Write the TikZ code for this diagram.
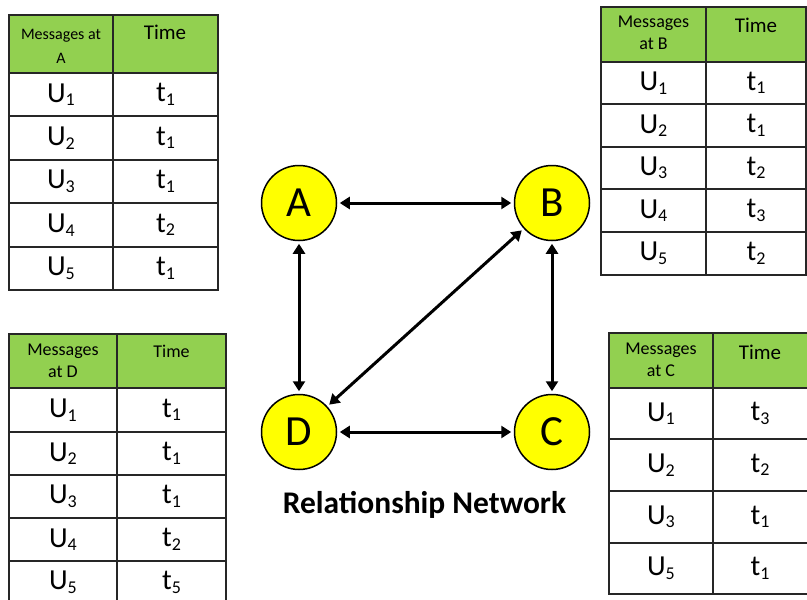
\documentclass[tikz,border=0pt]{standalone}
\usepackage{fontspec}
\setmainfont{Carlito}
\usetikzlibrary{arrows.meta}
\definecolor{hdrgreen}{HTML}{92D050}
\definecolor{nodeyellow}{HTML}{FFFF00}
\newcommand{\msub}[2]{#1\raisebox{-3.5pt}{\fontsize{18}{18}\selectfont #2}}
\tikzset{
  tbl/.style={draw=black!85, line width=1.2pt},
  hdrtext/.style={anchor=north, inner sep=0pt, align=center},
  celltext/.style={inner sep=0pt, font=\fontsize{29}{30}\selectfont},
  netnode/.style={circle, draw=black, line width=1.5pt, fill=nodeyellow, minimum size=75pt, inner sep=0pt, font=\fontsize{43}{43}\selectfont},
  link/.style={line width=3pt, {Triangle[length=10pt,width=12pt]}-{Triangle[length=10pt,width=12pt]}, shorten <=2.5pt, shorten >=2.5pt}
}
\begin{document}
\begin{tikzpicture}[x=1pt,y=-1pt]
\useasboundingbox[fill=white] (0,0) rectangle (807,600);

% ---------- Table A ----------
\fill[hdrgreen] (9,15) rectangle (218,73);
\draw[tbl] (9,15) rectangle (113,73);
\draw[tbl] (113,15) rectangle (218,73);
\node[hdrtext, font=\fontsize{16}{24}\selectfont] (Ah1) at (61,29) {Messages at\\A};
\node[hdrtext, font=\fontsize{21}{24}\selectfont] (Ah2) at (165,25) {Time};
\foreach \ya/\yb/\u/\t [count=\i] in {73/116/1/1,116/160/2/1,160/203/3/1,203/247/4/2,247/290/5/1}{
  \draw[tbl] (9,\ya) rectangle (113,\yb);
  \draw[tbl] (113,\ya) rectangle (218,\yb);
  \node[celltext] (Au\i) at ({61},{(\ya+\yb)/2}) {\msub{U}{\u}};
  \node[celltext] (At\i) at ({165.5},{(\ya+\yb)/2}) {\msub{t}{\t}};
}

% ---------- Table B ----------
\fill[hdrgreen] (601,7) rectangle (806,62);
\draw[tbl] (601,7) rectangle (706,62);
\draw[tbl] (706,7) rectangle (806,62);
\node[hdrtext, font=\fontsize{18}{22}\selectfont] (Bh1) at (653.5,16) {Messages\\at B};
\node[hdrtext, font=\fontsize{21}{24}\selectfont] (Bh2) at (756,18) {Time};
\foreach \ya/\yb/\u/\t [count=\i] in {62/104/1/1,104/147/2/1,147/189/3/2,189/232/4/3,232/275/5/2}{
  \draw[tbl] (601,\ya) rectangle (706,\yb);
  \draw[tbl] (706,\ya) rectangle (806,\yb);
  \node[celltext] (Bu\i) at ({653.5},{(\ya+\yb)/2}) {\msub{U}{\u}};
  \node[celltext] (Bt\i) at ({756},{(\ya+\yb)/2}) {\msub{t}{\t}};
}

% ---------- Table D ----------
\fill[hdrgreen] (9,334) rectangle (226,388);
\draw[tbl] (9,334) rectangle (117,388);
\draw[tbl] (117,334) rectangle (226,388);
\node[hdrtext, font=\fontsize{18}{22}\selectfont] (Dh1) at (63,344) {Messages\\at D};
\node[hdrtext, font=\fontsize{18}{22}\selectfont] (Dh2) at (171.5,345) {Time};
\foreach \ya/\yb/\u/\t [count=\i] in {388/432/1/1,432/475/2/1,475/518/3/1,518/561/4/2,561/604/5/5}{
  \draw[tbl] (9,\ya) rectangle (117,\yb);
  \draw[tbl] (117,\ya) rectangle (226,\yb);
  \node[celltext] (Du\i) at ({63},{(\ya+\yb)/2}) {\msub{U}{\u}};
  \node[celltext] (Dt\i) at ({171.5},{(\ya+\yb)/2}) {\msub{t}{\t}};
}

% ---------- Table C ----------
\fill[hdrgreen] (609,333) rectangle (810,388);
\draw[tbl] (609,333) rectangle (713,388);
\draw[tbl] (713,333) rectangle (810,388);
\node[hdrtext, font=\fontsize{18}{22}\selectfont] (Ch1) at (661,343) {Messages\\at C};
\node[hdrtext, font=\fontsize{21}{24}\selectfont] (Ch2) at (760,345) {Time};
\foreach \ya/\yb/\u/\t [count=\i] in {388/439/1/3,439/491/2/2,491/543/3/1,543/594/5/1}{
  \draw[tbl] (609,\ya) rectangle (713,\yb);
  \draw[tbl] (713,\ya) rectangle (810,\yb);
  \node[celltext] (Cu\i) at ({661},{(\ya+\yb)/2}) {\msub{U}{\u}};
  \node[celltext] (Ct\i) at ({760},{(\ya+\yb)/2}) {\msub{t}{\t}};
}

% ---------- Network ----------
\node[netnode] (A) at (299,203) {A};
\node[netnode] (B) at (552,203) {B};
\node[netnode] (C) at (552,432) {C};
\node[netnode] (D) at (299,432) {D};

\draw[link] (A) -- (B);
\draw[link] (A) -- (D);
\draw[link] (B) -- (C);
\draw[link] (D) -- (C);
\draw[link] (D) -- (B);

\node[inner sep=0pt, anchor=base, font=\fontsize{31.5}{32}\selectfont\bfseries] (title) at (424.5,513) {Relationship Network};
\end{tikzpicture}
\end{document}
